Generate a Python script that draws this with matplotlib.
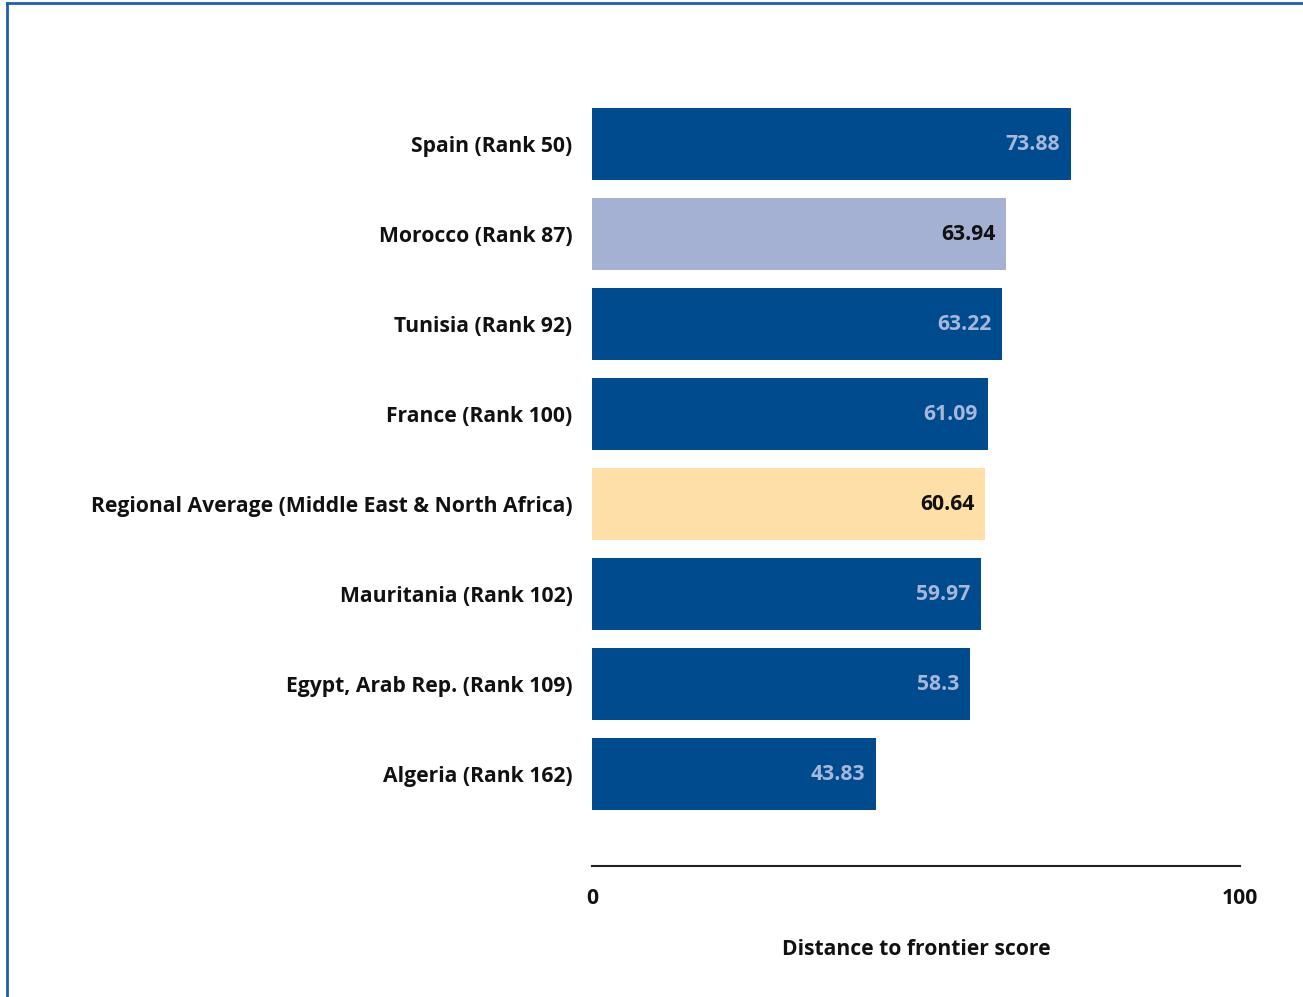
import matplotlib
matplotlib.use("Agg")
import matplotlib.pyplot as plt
from matplotlib.lines import Line2D

categories = ["Spain (Rank 50)", "Morocco (Rank 87)", "Tunisia (Rank 92)", "France (Rank 100)",
              "Regional Average (Middle East & North Africa)", "Mauritania (Rank 102)",
              "Egypt, Arab Rep. (Rank 109)", "Algeria (Rank 162)"]
values = [73.88, 63.94, 63.22, 61.09, 60.64, 59.97, 58.3, 43.83]
value_labels = ["73.88", "63.94", "63.22", "61.09", "60.64", "59.97", "58.3", "43.83"]
kinds = ["other", "focus", "other", "other", "region", "other", "other", "other"]
xticks = [0, 100]
xtick_labels = ["0", "100"]
xlabel = "Distance to frontier score"

colors = {"other": "#004B8D", "focus": "#A5B1D3", "region": "#FFDFA8"}
label_colors = {"other": "#A7B7DA", "focus": "#111111", "region": "#111111"}

plt.rcParams['font.family'] = ['Open Sans', 'DejaVu Sans']
FS = 15.2

fig = plt.figure(figsize=(13.03, 9.97), dpi=100)
# border frame
fig.add_artist(Line2D([7/1303, 7/1303], [0, 1 - 3/997], transform=fig.transFigure, color="#1F5FA8", lw=2))
fig.add_artist(Line2D([7/1303, 1], [1 - 3/997, 1 - 3/997], transform=fig.transFigure, color="#1F5FA8", lw=2))

ax = fig.add_axes([592/1303, 1 - 866/997, 648/1303, 767/997])
n = len(categories)
ypos = [n - 1 - i for i in range(n)]
ax.barh(ypos, values, height=0.81, color=[colors[k] for k in kinds], edgecolor="none")
for y, v, lab, k in zip(ypos, values, value_labels, kinds):
    ax.text(v - 1.6, y, lab, ha="right", va="center", fontsize=FS, fontweight="bold",
            color=label_colors[k])

ax.set_xlim(0, 100)
ax.set_ylim(-1.022, 7.5)
ax.set_yticks(ypos)
ax.set_yticklabels(categories, fontsize=FS, fontweight="bold", color="#111111")
ax.tick_params(axis="y", length=0, pad=14)
ax.set_xticks(xticks)
ax.set_xticklabels(xtick_labels, fontsize=FS, fontweight="bold", color="#111111")
ax.tick_params(axis="x", length=0, pad=15.5)
ax.set_xlabel(xlabel, fontsize=FS, fontweight="bold", color="#111111", labelpad=22)
for s in ["top", "right", "left"]:
    ax.spines[s].set_visible(False)
ax.spines["bottom"].set_color("#222222")
ax.spines["bottom"].set_linewidth(1.5)

fig.savefig("out.png", dpi=100)
